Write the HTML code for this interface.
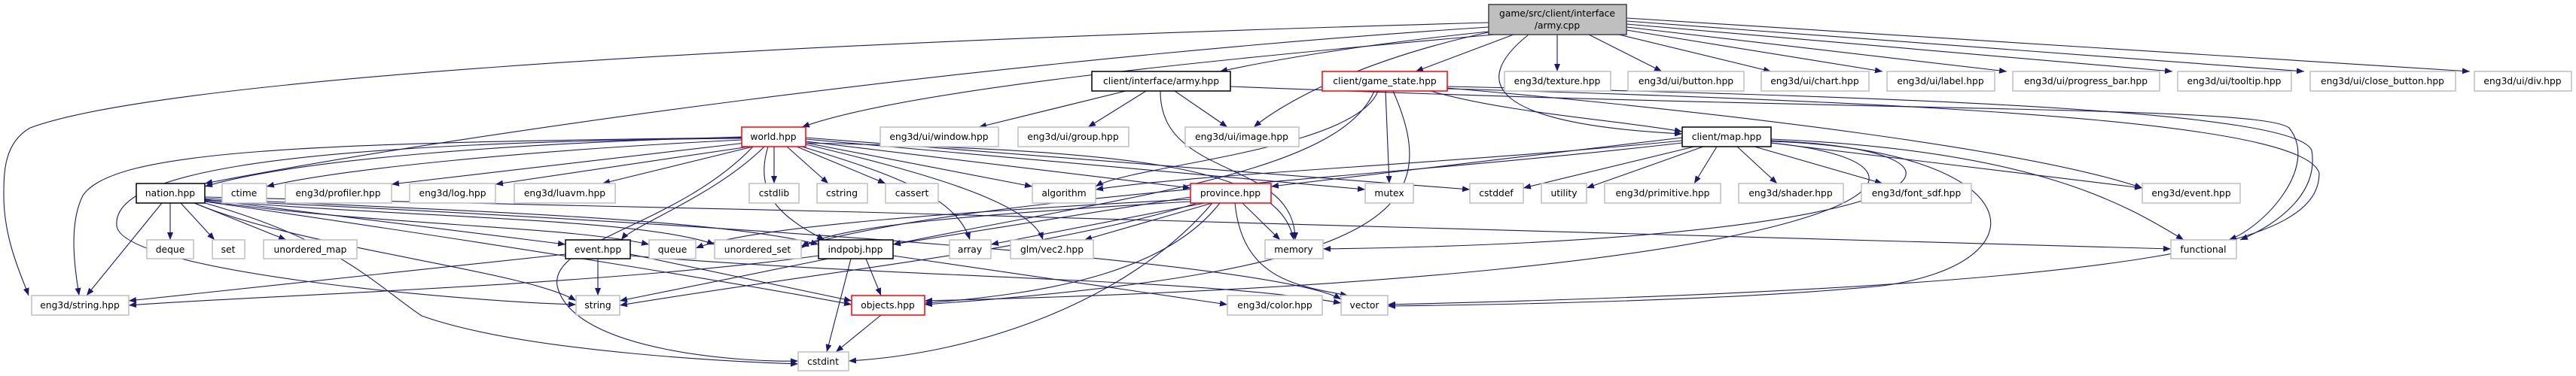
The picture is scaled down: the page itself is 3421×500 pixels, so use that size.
<!DOCTYPE html>
<html><head><meta charset="utf-8"><style>
html,body{margin:0;padding:0;background:#fff;}
svg{display:block}
text{font-family:"DejaVu Sans","Liberation Sans",sans-serif;font-size:12.3px;fill:#000;text-anchor:middle}
.n{fill:#fff;stroke:#bfbfbf;stroke-width:1.5}
.b{fill:#fff;stroke:#000;stroke-width:1.5}
.r{fill:#fff;stroke:#ff0000;stroke-width:1.5}
.e path{fill:none;stroke:#191970;stroke-width:1.1}
</style></head><body>
<svg width="3421" height="500" viewBox="0 0 3421 500" xmlns="http://www.w3.org/2000/svg">
<defs><marker id="a" markerUnits="userSpaceOnUse" markerWidth="11" markerHeight="8" refX="10" refY="4" orient="auto"><path d="M0,0 L10,4 L0,8 z" fill="#191970"/></marker></defs>
<g class="e" marker-end="url(#a)">
<path marker-end="url(#a)" d="M1977,30 C900,60 200,110 40,170 C5,190 5,230 5,260 C5,320 30,370 38,393"/>
<path marker-end="url(#a)" d="M1977,36 C1300,80 600,180 272,244"/>
<path marker-end="url(#a)" d="M1985,46 C1600,80 1200,120 1065,169"/>
<path marker-end="url(#a)" d="M1977,42 C1800,60 1680,82 1620,95"/>
<path marker-end="url(#a)" d="M1990,40 C1800,80 1700,140 1665,169"/>
<path marker-end="url(#a)" d="M2010,46 L1880,95"/>
<path marker-end="url(#a)" d="M2030,46 C1950,110 1980,165 2234,178"/>
<path marker-end="url(#a)" d="M2068,46 L2068,95"/>
<path marker-end="url(#a)" d="M2110,46 L2207,95"/>
<path marker-end="url(#a)" d="M2150,46 L2352,95"/>
<path marker-end="url(#a)" d="M2160,40 L2500,95"/>
<path marker-end="url(#a)" d="M2160,36 L2665,95"/>
<path marker-end="url(#a)" d="M2160,32 L2885,95"/>
<path marker-end="url(#a)" d="M2160,28 L3060,95"/>
<path marker-end="url(#a)" d="M2160,24 L3280,95"/>
<path marker-end="url(#a)" d="M1495,121 L1300,169"/>
<path marker-end="url(#a)" d="M1522,121 L1445,169"/>
<path marker-end="url(#a)" d="M1560,121 L1630,169"/>
<path marker-end="url(#a)" d="M1541,121 C1540,240 1720,210 1720,319"/>
<path marker-end="url(#a)" d="M1634,115 C2500,150 3000,140 3040,170 C3080,220 3010,300 2960,319"/>
<path marker-end="url(#a)" d="M1900,121 C2000,150 2150,160 2234,175"/>
<path marker-end="url(#a)" d="M1840,121 L1845,244"/>
<path marker-end="url(#a)" d="M1830,121 C1800,200 1500,220 1455,248"/>
<path marker-end="url(#a)" d="M1850,121 C1920,280 1850,360 1228,405"/>
<path marker-end="url(#a)" d="M1825,121 C1780,230 1500,260 1186,325"/>
<path marker-end="url(#a)" d="M1922,117 C2300,150 2700,200 2845,250"/>
<path marker-end="url(#a)" d="M1922,115 C2600,130 3050,150 3070,200 C3080,260 3020,300 2975,319"/>
<path marker-end="url(#a)" d="M1922,118 C2700,140 3060,170 3080,230 C3080,320 2900,380 1843,405"/>
<path marker-end="url(#a)" d="M985,182 C700,190 400,210 272,248"/>
<path marker-end="url(#a)" d="M985,186 C700,200 450,225 354,248"/>
<path marker-end="url(#a)" d="M990,190 L520,245"/>
<path marker-end="url(#a)" d="M995,195 L658,245"/>
<path marker-end="url(#a)" d="M1000,195 L800,244"/>
<path marker-end="url(#a)" d="M1028,195 L1028,244"/>
<path marker-end="url(#a)" d="M1045,195 L1100,244"/>
<path marker-end="url(#a)" d="M1058,195 L1176,244"/>
<path marker-end="url(#a)" d="M1070,190 L1371,248"/>
<path marker-end="url(#a)" d="M1070,188 L1581,250"/>
<path marker-end="url(#a)" d="M1070,185 L1813,252"/>
<path marker-end="url(#a)" d="M1070,183 L1952,252"/>
<path marker-end="url(#a)" d="M1065,195 C1180,230 1270,260 1288,319"/>
<path marker-end="url(#a)" d="M1070,192 C1230,230 1370,270 1385,319"/>
<path marker-end="url(#a)" d="M1070,190 C1500,200 1700,220 1718,319"/>
<path marker-end="url(#a)" d="M1015,195 C950,260 840,300 825,319"/>
<path marker-end="url(#a)" d="M1000,195 C900,300 730,320 740,380 C760,470 1000,482 1060,480"/>
<path marker-end="url(#a)" d="M1020,195 C1000,260 1040,290 1095,319"/>
<path marker-end="url(#a)" d="M985,184 C300,190 150,240 155,300 C160,360 600,400 765,405"/>
<path marker-end="url(#a)" d="M985,183 C400,190 150,200 110,260 C90,300 100,360 105,393"/>
<path marker-end="url(#a)" d="M226,270 L226,319"/>
<path marker-end="url(#a)" d="M240,270 L285,319"/>
<path marker-end="url(#a)" d="M258,270 L380,319"/>
<path marker-end="url(#a)" d="M215,270 L115,393"/>
<path marker-end="url(#a)" d="M272,265 L751,325"/>
<path marker-end="url(#a)" d="M272,267 C500,300 750,300 862,325"/>
<path marker-end="url(#a)" d="M272,266 C550,290 850,290 949,325"/>
<path marker-end="url(#a)" d="M272,264 C600,280 950,290 1087,325"/>
<path marker-end="url(#a)" d="M258,270 C400,330 700,360 765,400"/>
<path marker-end="url(#a)" d="M272,270 C450,320 500,380 560,420 C700,470 1000,482 1060,484"/>
<path marker-end="url(#a)" d="M272,268 C700,330 1000,380 1131,405"/>
<path marker-end="url(#a)" d="M272,262 C1200,280 2500,320 2883,331"/>
<path marker-end="url(#a)" d="M272,266 C1000,300 1700,350 1781,398"/>
<path marker-end="url(#a)" d="M751,338 L171,400"/>
<path marker-end="url(#a)" d="M794,344 L794,393"/>
<path marker-end="url(#a)" d="M837,338 L1131,400"/>
<path marker-end="url(#a)" d="M837,340 C1200,370 1600,370 1781,403"/>
<path marker-end="url(#a)" d="M1100,344 L823,400"/>
<path marker-end="url(#a)" d="M1087,340 C800,380 300,395 171,406"/>
<path marker-end="url(#a)" d="M1150,344 L1170,393"/>
<path marker-end="url(#a)" d="M1130,344 L1098,468"/>
<path marker-end="url(#a)" d="M1186,340 L1630,405"/>
<path marker-end="url(#a)" d="M1600,270 L1316,325"/>
<path marker-end="url(#a)" d="M1610,270 L1440,319"/>
<path marker-end="url(#a)" d="M1650,270 L1700,319"/>
<path marker-end="url(#a)" d="M1640,270 C1650,370 1720,380 1790,393"/>
<path marker-end="url(#a)" d="M1620,270 C1550,360 1400,390 1228,403"/>
<path marker-end="url(#a)" d="M1590,270 C1400,330 1100,360 823,406"/>
<path marker-end="url(#a)" d="M1610,270 C1500,400 1300,470 1127,480"/>
<path marker-end="url(#a)" d="M1581,262 L1186,325"/>
<path marker-end="url(#a)" d="M1581,265 C1300,280 1000,300 924,330"/>
<path marker-end="url(#a)" d="M1581,268 C1300,285 1100,300 1064,330"/>
<path marker-end="url(#a)" d="M2250,195 L2023,250"/>
<path marker-end="url(#a)" d="M2262,195 L2107,250"/>
<path marker-end="url(#a)" d="M2280,195 L2250,244"/>
<path marker-end="url(#a)" d="M2307,195 L2360,244"/>
<path marker-end="url(#a)" d="M2330,195 L2500,244"/>
<path marker-end="url(#a)" d="M2352,190 L2845,250"/>
<path marker-end="url(#a)" d="M2352,185 C2700,200 2820,270 2900,319"/>
<path marker-end="url(#a)" d="M2352,188 C2700,200 2720,350 2500,380 C2300,400 2000,405 1843,407"/>
<path marker-end="url(#a)" d="M2352,190 C2650,220 2500,370 1228,400"/>
<path marker-end="url(#a)" d="M2352,187 C2680,200 2600,320 1757,331"/>
<path marker-end="url(#a)" d="M2234,183 L1688,248"/>
<path marker-end="url(#a)" d="M2234,187 C1900,220 1600,230 1455,252"/>
<path marker-end="url(#a)" d="M2234,190 C1800,240 1300,260 1064,327"/>
<path marker-end="url(#a)" d="M1170,419 L1110,468"/>
</g>
<rect x="1977" y="6" width="183" height="40" fill="#bfbfbf" stroke="#404040" stroke-width="1.5"/>
<text x="2068" y="22">game/src/client/interface</text><text x="2068" y="38">/army.cpp</text>
<g>
<rect class="b" x="1450" y="95" width="184" height="26"/><text x="1542" y="112">client/interface/army.hpp</text>
<rect class="r" x="1756" y="95" width="166" height="26"/><text x="1839" y="112">client/game_state.hpp</text>
<rect class="n" x="1998" y="95" width="141" height="26"/><text x="2068" y="112">eng3d/texture.hpp</text>
<rect class="n" x="2162" y="95" width="154" height="26"/><text x="2239" y="112">eng3d/ui/button.hpp</text>
<rect class="n" x="2339" y="95" width="143" height="26"/><text x="2410" y="112">eng3d/ui/chart.hpp</text>
<rect class="n" x="2506" y="95" width="143" height="26"/><text x="2577" y="112">eng3d/ui/label.hpp</text>
<rect class="n" x="2673" y="95" width="195" height="26"/><text x="2770" y="112">eng3d/ui/progress_bar.hpp</text>
<rect class="n" x="2892" y="95" width="151" height="26"/><text x="2967" y="112">eng3d/ui/tooltip.hpp</text>
<rect class="n" x="3068" y="95" width="193" height="26"/><text x="3164" y="112">eng3d/ui/close_button.hpp</text>
<rect class="n" x="3286" y="95" width="129" height="26"/><text x="3350" y="112">eng3d/ui/div.hpp</text>
<rect class="r" x="985" y="169" width="85" height="26"/><text x="1027" y="186">world.hpp</text>
<rect class="n" x="1169" y="169" width="157" height="26"/><text x="1247" y="186">eng3d/ui/window.hpp</text>
<rect class="n" x="1352" y="169" width="147" height="26"/><text x="1425" y="186">eng3d/ui/group.hpp</text>
<rect class="n" x="1574" y="169" width="151" height="26"/><text x="1649" y="186">eng3d/ui/image.hpp</text>
<rect class="b" x="2234" y="169" width="118" height="26"/><text x="2293" y="186">client/map.hpp</text>
<rect class="b" x="181" y="244" width="91" height="26"/><text x="226" y="261">nation.hpp</text>
<rect class="n" x="295" y="244" width="59" height="26"/><text x="324" y="261">ctime</text>
<rect class="n" x="379" y="244" width="141" height="26"/><text x="449" y="261">eng3d/profiler.hpp</text>
<rect class="n" x="544" y="244" width="114" height="26"/><text x="601" y="261">eng3d/log.hpp</text>
<rect class="n" x="683" y="244" width="134" height="26"/><text x="750" y="261">eng3d/luavm.hpp</text>
<rect class="n" x="995" y="244" width="66" height="26"/><text x="1028" y="261">cstdlib</text>
<rect class="n" x="1085" y="244" width="67" height="26"/><text x="1118" y="261">cstring</text>
<rect class="n" x="1176" y="244" width="70" height="26"/><text x="1211" y="261">cassert</text>
<rect class="n" x="1371" y="244" width="84" height="26"/><text x="1413" y="261">algorithm</text>
<rect class="r" x="1581" y="244" width="107" height="26"/><text x="1634" y="261">province.hpp</text>
<rect class="n" x="1813" y="244" width="64" height="26"/><text x="1845" y="261">mutex</text>
<rect class="n" x="1952" y="244" width="71" height="26"/><text x="1987" y="261">cstddef</text>
<rect class="n" x="2047" y="244" width="60" height="26"/><text x="2077" y="261">utility</text>
<rect class="n" x="2131" y="244" width="154" height="26"/><text x="2208" y="261">eng3d/primitive.hpp</text>
<rect class="n" x="2309" y="244" width="139" height="26"/><text x="2378" y="261">eng3d/shader.hpp</text>
<rect class="n" x="2472" y="244" width="146" height="26"/><text x="2545" y="261">eng3d/font_sdf.hpp</text>
<rect class="n" x="2845" y="244" width="130" height="26"/><text x="2910" y="261">eng3d/event.hpp</text>
<rect class="n" x="195" y="319" width="62" height="25"/><text x="226" y="336">deque</text>
<rect class="n" x="282" y="319" width="43" height="25"/><text x="303" y="336">set</text>
<rect class="n" x="350" y="319" width="124" height="25"/><text x="412" y="336">unordered_map</text>
<rect class="b" x="751" y="319" width="86" height="25"/><text x="794" y="336">event.hpp</text>
<rect class="n" x="862" y="319" width="62" height="25"/><text x="893" y="336">queue</text>
<rect class="n" x="949" y="319" width="115" height="25"/><text x="1006" y="336">unordered_set</text>
<rect class="b" x="1087" y="319" width="99" height="25"/><text x="1136" y="336">indpobj.hpp</text>
<rect class="n" x="1261" y="319" width="55" height="25"/><text x="1288" y="336">array</text>
<rect class="n" x="1342" y="319" width="110" height="25"/><text x="1397" y="336">glm/vec2.hpp</text>
<rect class="n" x="1680" y="319" width="77" height="25"/><text x="1718" y="336">memory</text>
<rect class="n" x="2883" y="319" width="87" height="25"/><text x="2926" y="336">functional</text>
<rect class="n" x="42" y="393" width="129" height="26"/><text x="106" y="410">eng3d/string.hpp</text>
<rect class="n" x="765" y="393" width="58" height="26"/><text x="794" y="410">string</text>
<rect class="r" x="1131" y="393" width="97" height="26"/><text x="1179" y="410">objects.hpp</text>
<rect class="n" x="1630" y="393" width="126" height="26"/><text x="1693" y="410">eng3d/color.hpp</text>
<rect class="n" x="1781" y="393" width="62" height="26"/><text x="1812" y="410">vector</text>
<rect class="n" x="1060" y="468" width="67" height="25"/><text x="1093" y="485">cstdint</text>
</g>
</svg>
</body></html>
